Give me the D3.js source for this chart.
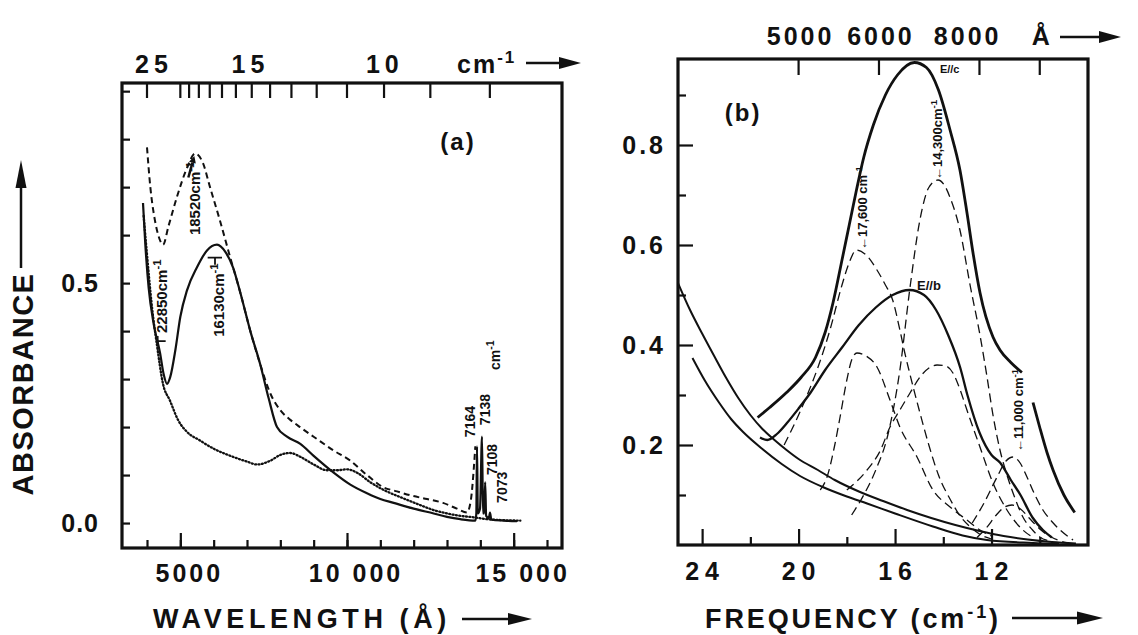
<!DOCTYPE html>
<html>
<head>
<meta charset="utf-8">
<script src="https://cdn.jsdelivr.net/npm/d3@7"></script>
<style>
  body { margin: 0; background: #fff; }
  text { font-family: "Liberation Sans", Arial, Helvetica, sans-serif; font-weight: bold; fill: #111; }
</style>
</head>
<body>
<div id="chart"></div>
<script>
// ---------- panel (a) data : wavelength (Å) vs absorbance ----------
const wlMinorTicks = [4000, 5000, 6000, 7000, 8000, 9000, 10000, 11000, 12000, 13000, 14000, 15000, 16000];
const wlMajorTicks = [5000, 10000, 15000];
const wlLabels = ["5000", "10 000", "15 000"];
const absTicksA = [0, 0.1, 0.2, 0.3, 0.4, 0.5, 0.6, 0.7, 0.8, 0.9];
const absLabelsA = [0, 0.5];
const absLabelTextA = ["0.0", "0.5"];
const wnTicksA = [25, 20, 19, 18, 17, 16, 15, 14, 13, 12, 11, 10, 9, 8, 7]; // 1000 cm-1
const wnLabelsA = ["25", "15", "10"];
const wnLabelAtA = [24100, 14200, 9030]; // cm-1 where the labels sit

const solidA = [[3880,0.667],[3950,0.58],[4050,0.49],[4200,0.415],[4390,0.355],[4500,0.31],[4600,0.29],[4700,0.305],[4850,0.36],[5000,0.43],[5200,0.485],[5500,0.533],[5800,0.568],[6100,0.58],[6350,0.565],[6580,0.533],[6800,0.48],[7100,0.4],[7400,0.33],[7650,0.26],[7900,0.2],[8200,0.18],[8600,0.165],[9000,0.14],[9600,0.105],[10100,0.08],[10600,0.062],[11000,0.05],[11400,0.042],[12000,0.03],[12600,0.02],[13000,0.013],[13400,0.008],[13850,0.005],[13880,0.02],[13900,0.16],[13925,0.02],[13990,0.03],[14050,0.18],[14080,0.02],[14115,0.02],[14145,0.085],[14175,0.015],[14255,0.01],[14290,0.022],[14330,0.007],[14700,0.005],[15100,0.004]];
const dashedA = [[4000,0.783],[4100,0.7],[4240,0.63],[4360,0.595],[4480,0.58],[4650,0.62],[4900,0.68],[5200,0.74],[5440,0.77],[5680,0.75],[5890,0.7],[6190,0.63],[6490,0.555],[6800,0.48],[7100,0.4],[7400,0.33],[7700,0.27],[8000,0.235],[8300,0.215],[8590,0.2],[9100,0.175],[9580,0.152],[10100,0.13],[10600,0.1],[11080,0.075],[11500,0.066],[11890,0.058],[12400,0.05],[12880,0.042],[13300,0.03],[13600,0.022],[13720,0.05],[13800,0.11],[13850,0.16]];
const dottedA = [[3900,0.64],[4000,0.56],[4150,0.45],[4300,0.37],[4480,0.29],[4690,0.255],[4930,0.215],[5200,0.19],[5590,0.172],[6000,0.155],[6580,0.138],[7000,0.128],[7300,0.122],[7700,0.13],[8000,0.142],[8300,0.146],[8600,0.138],[9000,0.122],[9400,0.11],[9700,0.11],[10000,0.112],[10300,0.105],[10700,0.085],[11100,0.069],[11600,0.054],[12100,0.04],[12600,0.027],[13000,0.02],[13400,0.015],[13800,0.012],[14200,0.008],[14700,0.006],[15200,0.005]];

// rotated peak labels of (a): [main text, superscript, wavelength, absorbance, size]
const notesA = [
  ["18520cm", "-1", 5575, 0.6, 15],
  ["16130cm", "-1", 6295, 0.388, 15],
  ["22850cm", "-1", 4585, 0.396, 15],
  ["7164", "", 13850, 0.179, 14],
  ["7138", "", 14290, 0.204, 14],
  ["7108", "", 14500, 0.1, 14],
  ["7073", "", 14800, 0.042, 14],
  ["cm", "-1", 14590, 0.319, 14]
];

// ---------- panel (b) data : frequency (1000 cm-1) vs absorbance ----------
const freqMajorTicks = [24, 20, 16, 12];
const freqMinorTicks = [22, 18, 14, 10];
const absMajorB = [0.2, 0.4, 0.6, 0.8];
const absMinorB = [0.1, 0.3, 0.5, 0.7, 0.9];
const angTicksB = [5000, 6000, 8000, 10000];
const angLabelsB = ["5000", "6000", "8000"];
const angLabelAtB = [5000, 6000, 7650];

const eParC = [[21.7,0.255],[21.2,0.275],[20.5,0.305],[19.9,0.335],[19.3,0.375],[18.9,0.425],[18.57,0.485],[18.2,0.57],[17.9,0.64],[17.6,0.71],[17.3,0.775],[16.9,0.84],[16.4,0.9],[15.9,0.94],[15.2,0.965],[14.7,0.955],[14.2,0.91],[13.72,0.83],[13.31,0.75],[13.02,0.665],[12.77,0.585],[12.48,0.505],[11.94,0.416],[11.65,0.39],[11.2,0.365],[10.74,0.345],[10.5,null],[10.28,0.285],[10.0,0.235],[9.7,0.185],[9.45,0.15],[9.0,0.1],[8.55,0.065]];
const eParB = [[21.6,0.215],[21.3,0.21],[20.9,0.222],[20.5,0.243],[20.0,0.273],[19.5,0.305],[18.9,0.35],[18.2,0.395],[17.5,0.44],[16.8,0.475],[16.1,0.5],[15.4,0.51],[14.8,0.5],[14.3,0.47],[13.8,0.42],[13.3,0.355],[13.0,0.3],[12.5,0.225],[12.0,0.18],[11.65,0.165],[11.2,0.13],[10.8,0.1],[10.3,0.055],[9.87,0.03],[9.5,0.015]];
const base1 = [[25.0,0.524],[24.5,0.47],[24.0,0.423],[23.5,0.378],[23.0,0.334],[22.5,0.294],[22.0,0.26],[21.5,0.232],[21.0,0.21],[20.5,0.19],[20.0,0.172],[19.2,0.15],[18.5,0.13],[17.5,0.107],[16.5,0.088],[15.5,0.07],[14.5,0.054],[13.5,0.04],[12.5,0.028],[11.5,0.018],[10.5,0.011],[9.5,0.006],[8.5,0.003]];
const base2 = [[24.4,0.374],[23.9,0.33],[23.3,0.285],[22.8,0.252],[22.3,0.226],[21.5,0.192],[20.7,0.162],[19.94,0.138],[19.0,0.116],[18.0,0.097],[17.16,0.083],[16.0,0.063],[14.43,0.037],[13.2,0.019],[12.19,0.01],[10.28,0.004],[9.2,0.002]];
const bandC1 = [[20.6,0.2],[20.0,0.26],[19.6,0.305],[19.2,0.355],[18.7,0.43],[18.2,0.52],[17.9,0.565],[17.6,0.59],[17.2,0.58],[16.75,0.55],[16.4,0.52],[16.1,0.49],[15.8,0.43],[15.6,0.385],[15.4,0.345],[15.0,0.27],[14.6,0.2],[14.2,0.14],[13.7,0.09],[13.3,0.058],[12.9,0.037],[12.5,0.022],[12.0,0.012]];
const bandC2 = [[17.8,0.06],[17.3,0.1],[16.8,0.15],[16.3,0.22],[15.8,0.35],[15.38,0.515],[14.97,0.65],[14.6,0.715],[14.22,0.73],[13.9,0.715],[13.72,0.695],[13.31,0.63],[12.89,0.52],[12.48,0.42],[12.2,0.34],[11.94,0.26],[11.65,0.19],[11.36,0.14],[11.0,0.09],[10.7,0.056],[10.3,0.03],[10.0,0.016],[9.6,0.008]];
const bandC3 = [[12.8,0.044],[12.3,0.085],[11.77,0.136],[11.4,0.168],[11.11,0.176],[10.8,0.163],[10.53,0.136],[10.2,0.1],[9.87,0.07],[9.5,0.047],[9.16,0.03],[8.62,0.01]];
const bandB1 = [[19.1,0.11],[18.82,0.136],[18.5,0.2],[18.28,0.256],[18.0,0.33],[17.8,0.37],[17.58,0.384],[17.2,0.378],[16.75,0.356],[16.21,0.29],[15.8,0.236],[15.09,0.176],[14.43,0.11],[13.72,0.076],[13.02,0.05],[12.48,0.03],[12.0,0.018]];
const bandB2 = [[18.0,0.11],[17.16,0.15],[16.6,0.19],[16.21,0.236],[15.8,0.27],[15.38,0.304],[14.9,0.34],[14.26,0.36],[13.9,0.358],[13.6,0.344],[13.3,0.31],[13.02,0.27],[12.48,0.196],[11.94,0.124],[11.36,0.07],[10.7,0.03],[10.28,0.015]];
const bandB3 = [[12.6,0.015],[12.2,0.035],[11.8,0.06],[11.45,0.076],[11.15,0.08],[10.8,0.072],[10.4,0.052],[10.0,0.032],[9.6,0.018],[9.2,0.009],[8.8,0.004]];

// rotated band labels of (b): [main text, superscript, frequency, absorbance]
const notesB = [
  ["\u219017,600 cm", "-1", 17.15, 0.59],
  ["\u219014,300cm", "-1", 14.06, 0.73],
  ["\u219011,000 cm", "-1", 10.7, 0.186]
];

// ---------- drawing ----------
const svg = d3.select("#chart").append("svg").attr("width", 1138).attr("height", 635);
const ink = "#111";

const xa = d3.scaleLinear().domain([3250, 16450]).range([122, 562]);
const ya = d3.scaleLinear().domain([-0.052, 0.917]).range([548, 83]);
const xb = d3.scaleLinear().domain([25, 8]).range([678, 1088]);
const yb = d3.scaleLinear().domain([0, 0.972]).range([545, 59]);

function arrow(x1, y1, x2, y2, head, half) {
  const a = Math.atan2(y2 - y1, x2 - x1), c = Math.cos(a), s = Math.sin(a);
  const bx = x2 - head * c, by = y2 - head * s;
  svg.append("line").attr("x1", x1).attr("y1", y1).attr("x2", bx).attr("y2", by)
    .attr("stroke", ink).attr("stroke-width", 2.5);
  svg.append("path").attr("d", `M${x2},${y2}L${bx - half * s},${by + half * c}L${bx + half * s},${by - half * c}Z`)
    .attr("fill", ink);
}

function vtext(x, y, main, sup, size) {
  const t = svg.append("text").attr("transform", `translate(${x},${y}) rotate(-90)`).attr("font-size", size);
  t.append("tspan").text(main);
  if (sup) t.append("tspan").attr("dy", -size * 0.4).attr("font-size", size * 0.75).text(sup);
}

function ticks(g, axis) {
  g.call(axis).call(s => s.select(".domain").remove())
    .call(s => s.selectAll(".tick line").attr("stroke", ink).attr("stroke-width", 2.2));
}

// ----- panel (a) -----
ticks(svg.append("g").attr("transform", "translate(0,548)"),
  d3.axisBottom(xa).tickValues(wlMinorTicks).tickSize(-8).tickFormat(""));
ticks(svg.append("g").attr("transform", "translate(0,548)"),
  d3.axisBottom(xa).tickValues(wlMajorTicks).tickSize(-15).tickFormat(""));
ticks(svg.append("g").attr("transform", "translate(122,0)"),
  d3.axisLeft(ya).tickValues(absTicksA).tickSize(-8).tickFormat(""));

// top wavenumber ticks (cm-1 -> Å)
svg.append("g").selectAll("line").data(wnTicksA).join("line")
  .attr("x1", d => xa(1e8 / (d * 1000))).attr("x2", d => xa(1e8 / (d * 1000)))
  .attr("y1", 83).attr("y2", 98).attr("stroke", ink).attr("stroke-width", 2.2);

svg.append("rect").attr("x", 122).attr("y", 83).attr("width", 440).attr("height", 465)
  .attr("fill", "none").attr("stroke", ink).attr("stroke-width", 3.2);

svg.append("g").selectAll("text").data(wlMajorTicks).join("text")
  .attr("x", d => xa(d) + 9).attr("y", 582).attr("text-anchor", "middle")
  .attr("font-size", 25).attr("letter-spacing", 3).text((d, i) => wlLabels[i]);
svg.append("g").selectAll("text").data(absLabelsA).join("text")
  .attr("x", 99).attr("y", d => ya(d) + 9).attr("text-anchor", "end")
  .attr("font-size", 25).attr("letter-spacing", 1).text((d, i) => absLabelTextA[i]);
svg.append("g").selectAll("text").data(wnLabelAtA).join("text")
  .attr("x", d => xa(1e8 / d) + 2).attr("y", 73).attr("text-anchor", "middle")
  .attr("font-size", 25).attr("letter-spacing", 5).text((d, i) => wnLabelsA[i]);

const cmTop = svg.append("text").attr("x", 457).attr("y", 73).attr("font-size", 25).attr("letter-spacing", 2);
cmTop.append("tspan").text("cm");
cmTop.append("tspan").attr("dy", -10).attr("font-size", 17).text("-1");
arrow(526, 63, 581, 63, 22, 6);

const lineA = d3.line().x(d => xa(d[0])).y(d => ya(d[1])).curve(d3.curveMonotoneX);
svg.append("path").attr("d", lineA(dottedA)).attr("fill", "none").attr("stroke", ink)
  .attr("stroke-width", 2.3).attr("stroke-dasharray", "1,2.4").attr("stroke-linecap", "round");
svg.append("path").attr("d", lineA(dashedA)).attr("fill", "none").attr("stroke", ink)
  .attr("stroke-width", 2).attr("stroke-dasharray", "6,4");
svg.append("path").attr("d", lineA(solidA)).attr("fill", "none").attr("stroke", ink)
  .attr("stroke-width", 2.2);

notesA.forEach(n => vtext(xa(n[2]), ya(n[3]), n[0], n[1], n[4]));
// small pointers at the labelled maxima
arrow(xa(5240), ya(0.72), xa(5420), ya(0.765), 7, 3.5);
svg.append("path").attr("d", `M${xa(5820)},${ya(0.553)}H${xa(6250)}M${xa(6040)},${ya(0.553)}V${ya(0.538)}`)
  .attr("stroke", ink).attr("stroke-width", 1.8).attr("fill", "none");
svg.append("path").attr("d", `M${xa(4320)},${ya(0.368)}V${ya(0.39)}M${xa(4320)},${ya(0.379)}H${xa(4560)}`)
  .attr("stroke", ink).attr("stroke-width", 1.8).attr("fill", "none");

svg.append("text").attr("x", xa(13330)).attr("y", ya(0.777)).attr("text-anchor", "middle")
  .attr("font-size", 24).attr("letter-spacing", 2).text("(a)");

// axis titles of (a)
svg.append("text").attr("transform", "translate(33,384) rotate(-90)").attr("text-anchor", "middle")
  .attr("font-size", 29).attr("letter-spacing", 1.5).text("ABSORBANCE");
arrow(21, 268, 21, 160, 28, 5.5);
svg.append("text").attr("x", 153).attr("y", 628).attr("font-size", 27).attr("letter-spacing", 4.6)
  .text("WAVELENGTH (\u00C5)");
arrow(462, 619, 532, 619, 24, 6);

// ----- panel (b) -----
ticks(svg.append("g").attr("transform", "translate(0,545)"),
  d3.axisBottom(xb).tickValues(freqMinorTicks).tickSize(-8).tickFormat(""));
ticks(svg.append("g").attr("transform", "translate(0,545)"),
  d3.axisBottom(xb).tickValues(freqMajorTicks).tickSize(-16).tickFormat(""));
ticks(svg.append("g").attr("transform", "translate(678,0)"),
  d3.axisLeft(yb).tickValues(absMinorB).tickSize(-8).tickFormat(""));
ticks(svg.append("g").attr("transform", "translate(678,0)"),
  d3.axisLeft(yb).tickValues(absMajorB).tickSize(-15).tickFormat(""));
svg.append("g").selectAll("line").data(angTicksB).join("line")
  .attr("x1", d => xb(1e5 / d)).attr("x2", d => xb(1e5 / d))
  .attr("y1", 59).attr("y2", 75).attr("stroke", ink).attr("stroke-width", 2.2);

svg.append("rect").attr("x", 678).attr("y", 59).attr("width", 410).attr("height", 486)
  .attr("fill", "none").attr("stroke", ink).attr("stroke-width", 3.2);

svg.append("g").selectAll("text").data(freqMajorTicks).join("text")
  .attr("x", d => xb(d) + 3).attr("y", 580).attr("text-anchor", "middle")
  .attr("font-size", 25).attr("letter-spacing", 6).text(d => d);
svg.append("g").selectAll("text").data(absMajorB).join("text")
  .attr("x", 666).attr("y", d => yb(d) + 9).attr("text-anchor", "end")
  .attr("font-size", 25).attr("letter-spacing", 3).text(d => d.toFixed(1));
svg.append("g").selectAll("text").data(angLabelAtB).join("text")
  .attr("x", d => xb(1e5 / d) + 2).attr("y", 45).attr("text-anchor", "middle")
  .attr("font-size", 25).attr("letter-spacing", 3).text((d, i) => angLabelsB[i]);
svg.append("text").attr("x", xb(10) + 1).attr("y", 45).attr("text-anchor", "middle")
  .attr("font-size", 25).text("\u00C5");
arrow(1060, 37, 1121, 37, 22, 6);

const lineB = d3.line().defined(d => d[1] !== null).x(d => xb(d[0])).y(d => yb(d[1])).curve(d3.curveMonotoneX);
[bandC1, bandC2, bandC3, bandB1, bandB2, bandB3].forEach(c => {
  svg.append("path").attr("d", lineB(c)).attr("fill", "none").attr("stroke", ink)
    .attr("stroke-width", 1.3).attr("stroke-dasharray", "9,5");
});
svg.append("path").attr("d", lineB(base2)).attr("fill", "none").attr("stroke", ink).attr("stroke-width", 2);
svg.append("path").attr("d", lineB(base1)).attr("fill", "none").attr("stroke", ink).attr("stroke-width", 2);
svg.append("path").attr("d", lineB(eParB)).attr("fill", "none").attr("stroke", ink).attr("stroke-width", 2.3);
svg.append("path").attr("d", lineB(eParC)).attr("fill", "none").attr("stroke", ink).attr("stroke-width", 2.8);

notesB.forEach(n => vtext(xb(n[2]), yb(n[3]), n[0], n[1], 13));
svg.append("text").attr("x", xb(14.14)).attr("y", yb(0.944)).attr("font-size", 11).text("E//c");
svg.append("text").attr("x", xb(15.09)).attr("y", yb(0.51)).attr("font-size", 13).text("E//b");
svg.append("text").attr("x", xb(22.3)).attr("y", yb(0.848)).attr("text-anchor", "middle")
  .attr("font-size", 24).attr("letter-spacing", 2).text("(b)");

const fq = svg.append("text").attr("x", 705).attr("y", 628).attr("font-size", 27).attr("letter-spacing", 2.9);
fq.append("tspan").text("FREQUENCY (cm");
fq.append("tspan").attr("dy", -10).attr("font-size", 18).text("-1");
fq.append("tspan").attr("dy", 10).text(")");
arrow(1012, 618, 1103, 618, 26, 6.5);
</script>
</body>
</html>
